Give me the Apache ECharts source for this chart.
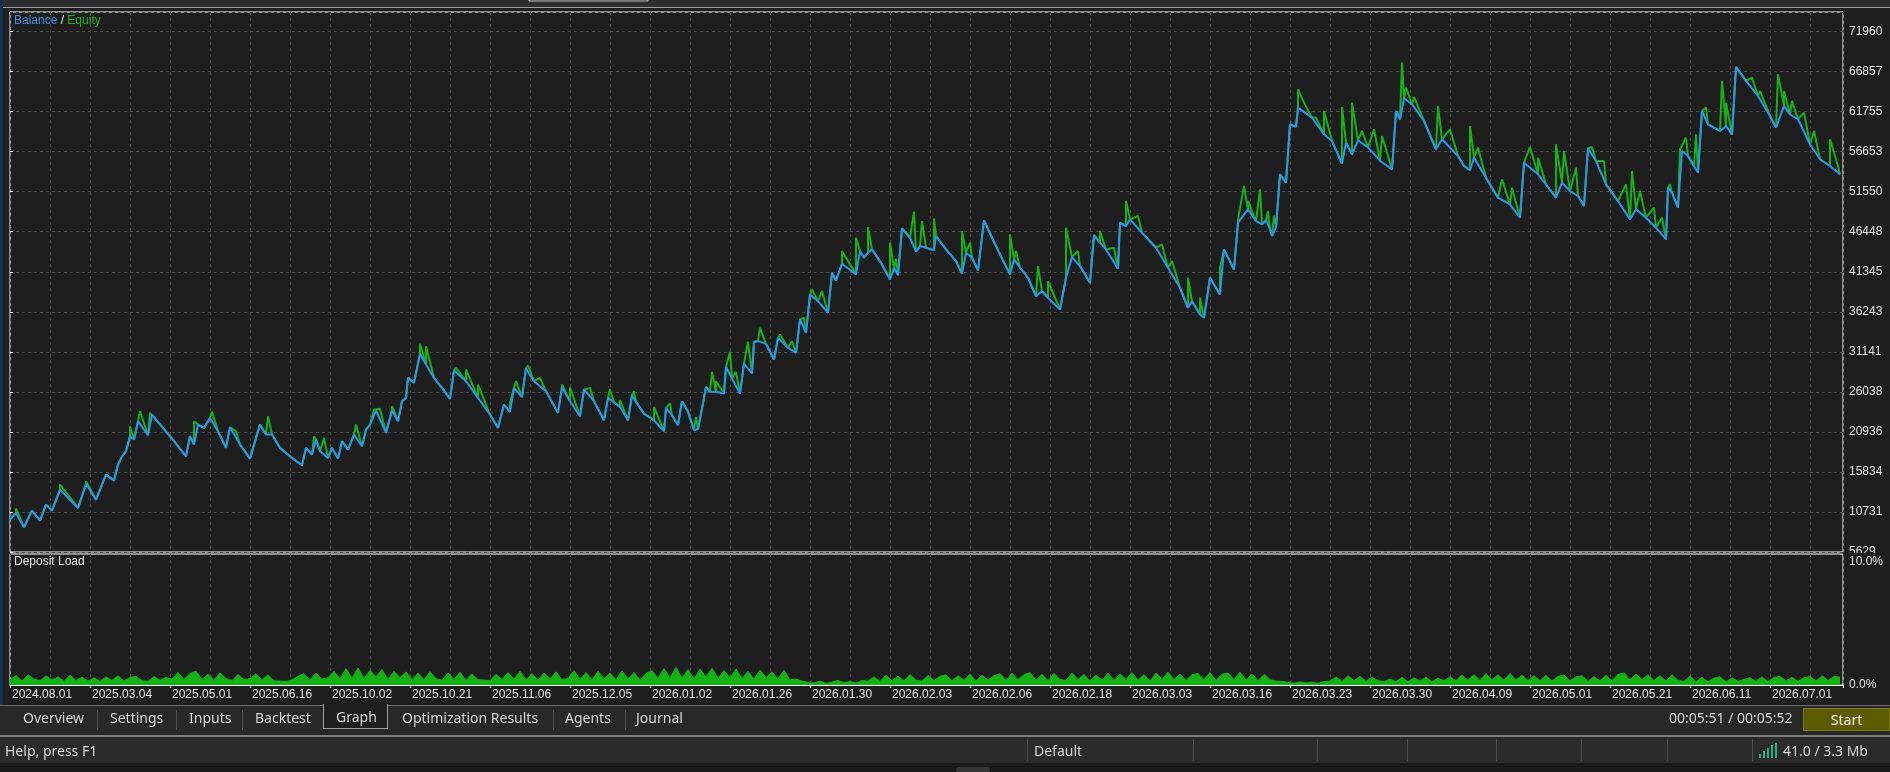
<!DOCTYPE html>
<html>
<head>
<meta charset="utf-8">
<title>Balance / Equity</title>
<script src="https://cdn.jsdelivr.net/npm/echarts@6.0.0/dist/echarts.min.js"></script>
<style>
  html, body { margin: 0; padding: 0; background: #1e1e1e; }
  body { width: 1890px; height: 772px; position: relative; overflow: hidden; font-family: "Noto Sans", sans-serif; color: #d8d8d8; }
  #chart { position: absolute; left: 0; top: 0; width: 1890px; height: 705px; }
  .abs { position: absolute; white-space: nowrap; }
  #navy { left: 0; top: 0; width: 3px; height: 737px; background: #0f3352; }
  #tabbar { left: 0; top: 705px; width: 1890px; height: 30px; background: #282828; border-top: 1px solid #6a6a6a; box-sizing: border-box; }
  #graphTab { left: 323px; top: 704px; width: 65px; height: 25px; background: #1e1e1e; border: 1px solid #a0a0a0; border-top: none; box-sizing: border-box; }
  .tab { top: 708px; font-size: 14px; line-height: 20px; color: #d6d6d6; }
  .sep { width: 1px; background: #4e4e4e; }
  #startBtn { left: 1803px; top: 708px; width: 87px; height: 23px; background: #5d5b00; border: 1px solid #7f7c12; box-sizing: border-box; text-align: center; font-size: 14px; line-height: 21px; color: #e8e8e0; }
  #status { left: 0; top: 735px; width: 1890px; height: 28px; background: #2b2b2b; border-top: 2px solid #7c7c7c; box-sizing: border-box; }
  #bottom { left: 0; top: 763px; width: 1890px; height: 9px; background: #1a1a1a; }
  #grip { left: 956px; top: 767px; width: 34px; height: 6px; background: #353535; border-radius: 3px; }
  .st { top: 741px; font-size: 14px; line-height: 20px; color: #d6d6d6; }
  .bar { width: 2px; background: #2bb07a; }
</style>
</head>
<body>
<div id="chart"></div>
<div class="abs" id="navy"></div>
<div class="abs" id="tabbar"></div>
<div class="abs" id="graphTab"></div>
<div class="abs tab" style="left:23px">Overview</div>
<div class="abs sep" style="left:97px;top:710px;height:20px"></div>
<div class="abs tab" style="left:110px">Settings</div>
<div class="abs sep" style="left:176px;top:710px;height:20px"></div>
<div class="abs tab" style="left:189px">Inputs</div>
<div class="abs sep" style="left:242px;top:710px;height:20px"></div>
<div class="abs tab" style="left:255px">Backtest</div>
<div class="abs tab" style="left:336px;top:707px">Graph</div>
<div class="abs tab" style="left:402px">Optimization Results</div>
<div class="abs sep" style="left:553px;top:710px;height:20px"></div>
<div class="abs tab" style="left:565px">Agents</div>
<div class="abs sep" style="left:625px;top:710px;height:20px"></div>
<div class="abs tab" style="left:636px">Journal</div>
<div class="abs tab" style="left:1669px">00:05:51 / 00:05:52</div>
<div class="abs" id="startBtn">Start</div>
<div class="abs" id="status"></div>
<div class="abs st" style="left:5px">Help, press F1</div>
<div class="abs sep" style="left:1027px;top:739px;height:22px"></div>
<div class="abs st" style="left:1034px">Default</div>
<div class="abs sep" style="left:1193px;top:739px;height:22px"></div>
<div class="abs sep" style="left:1317px;top:739px;height:22px"></div>
<div class="abs sep" style="left:1407px;top:739px;height:22px"></div>
<div class="abs sep" style="left:1496px;top:739px;height:22px"></div>
<div class="abs sep" style="left:1581px;top:739px;height:22px"></div>
<div class="abs sep" style="left:1667px;top:739px;height:22px"></div>
<div class="abs sep" style="left:1752px;top:739px;height:22px"></div>
<div class="abs bar" style="left:1759px;top:754px;height:4px"></div>
<div class="abs bar" style="left:1763px;top:751px;height:7px"></div>
<div class="abs bar" style="left:1767px;top:748px;height:10px"></div>
<div class="abs bar" style="left:1771px;top:745px;height:13px"></div>
<div class="abs bar" style="left:1775px;top:743px;height:15px"></div>
<div class="abs st" style="left:1783px">41.0 / 3.3 Mb</div>
<div class="abs" id="bottom"></div>
<div class="abs" id="grip"></div>

<script>
'use strict';

/*----- x axis: deal number, a date label every 40 deals -----*/
var xLabels = ['2024.08.01', '2025.03.04', '2025.05.01', '2025.06.16', '2025.10.02', '2025.10.21',
  '2025.11.06', '2025.12.05', '2026.01.02', '2026.01.26', '2026.01.30', '2026.02.03', '2026.02.06',
  '2026.02.18', '2026.03.03', '2026.03.16', '2026.03.23', '2026.03.30', '2026.04.09', '2026.05.01',
  '2026.05.21', '2026.06.11', '2026.07.01'];
var xLabelStep = 40;
var xMax = 916.5;

/*----- y axis ticks -----*/
var yTicks = ['5629', '10731', '15834', '20936', '26038', '31141', '36243', '41345', '46448',
  '51550', '56653', '61755', '66857', '71960'];
var yMin = 5629;
var yStep = (71960 - 5629) / 13;
var yMax = 74450;
var depositTicks = ['0.0%', '10.0%'];

/*----- balance [deal, value] -----*/
var balance = [
  [0, 9750], [3, 10600], [7, 8780], [11, 10900], [15, 9630], [18, 11670], [21, 10900], [25, 13580],
  [34, 11240], [38, 14300], [43, 12300], [48, 15490], [52, 14730], [54, 16770], [56, 17830], [58, 18470],
  [60, 20380], [62, 19960], [64, 22300], [69, 20510], [71, 23150], [82, 19750], [88, 17830], [90, 20380],
  [92, 19320], [94, 21870], [97, 21450], [100, 22720], [104, 21020], [108, 18900], [110, 21530], [115, 19320],
  [120, 17530], [123, 20170], [125, 21870], [128, 20600], [131, 20600], [135, 18900], [141, 17620], [146, 16680],
  [148, 18900], [151, 18050], [153, 19960], [155, 18470], [159, 17620], [161, 18900], [164, 17530], [166, 19750],
  [169, 18680], [172, 20600], [176, 19110], [178, 21230], [180, 21870], [183, 23660], [188, 20810], [191, 23660],
  [194, 22300], [196, 24850], [198, 25270], [199, 27820], [202, 27190], [205, 30890], [208, 29530], [212, 27820],
  [216, 26550], [220, 25150], [222, 28760], [228, 27400], [234, 25270], [240, 23150], [244, 21450], [247, 24420],
  [250, 23490], [252, 26550], [256, 25360], [258, 29020], [262, 27400], [268, 26120], [274, 23360], [276, 26630],
  [280, 24850], [285, 22930], [287, 26340], [292, 24850], [297, 22420], [299, 25270], [302, 24700], [305, 24130],
  [309, 22420], [311, 25610], [313, 24760], [317, 23270], [322, 22420], [327, 21020], [328, 24000], [331, 23060],
  [334, 21790], [336, 24850], [339, 23490], [342, 21150], [344, 21300], [346, 23910], [348, 26680], [350, 26040],
  [353, 26040], [357, 25830], [358, 29230], [361, 27740], [365, 25830], [367, 29650], [371, 28380], [372, 32420],
  [374, 32500], [378, 32160], [382, 30160], [384, 32930], [389, 31650], [393, 31010], [395, 35270], [398, 33570],
  [400, 38460], [404, 37600], [409, 36120], [411, 41220], [413, 40240], [416, 42370], [423, 41010], [425, 43980],
  [427, 43130], [429, 43770], [431, 44200], [436, 42280], [440, 40370], [442, 41860], [444, 40920], [446, 46870],
  [450, 45680], [453, 43900], [455, 44620], [458, 44410], [462, 44070], [463, 45900], [468, 44200], [473, 42710],
  [476, 41090], [478, 43770], [481, 43130], [484, 41520], [487, 47890], [491, 45680], [495, 43560], [500, 41010],
  [502, 42920], [505, 41860], [509, 40580], [513, 38240], [516, 38880], [519, 38030], [525, 36540], [528, 40580],
  [531, 43220], [535, 42070], [540, 39940], [542, 46020], [545, 45050], [548, 44200], [554, 41730], [555, 47600],
  [558, 47170], [560, 48020], [566, 46320], [573, 44410], [579, 41860], [585, 39310], [589, 36750], [591, 37600],
  [595, 35900], [597, 35480], [600, 40580], [602, 39730], [605, 38460], [607, 44200], [612, 41640], [614, 47600],
  [619, 49300], [623, 47800], [626, 47400], [628, 47900], [630, 46800], [631, 45900], [633, 47000], [635, 53760],
  [638, 52700], [640, 60140], [643, 59800], [644, 62270], [651, 60990], [657, 58860], [661, 58000], [666, 55120],
  [668, 57800], [671, 56310], [674, 58100], [679, 57200], [685, 55500], [691, 54400], [693, 61840], [695, 60780],
  [697, 63460], [701, 62700], [707, 60560], [713, 56950], [716, 58230], [724, 56100], [727, 54820], [730, 54300],
  [732, 55890], [738, 53340], [744, 50780], [750, 49930], [755, 48230], [757, 55250], [764, 53760], [768, 52490],
  [773, 50780], [776, 52700], [780, 51640], [784, 51000], [787, 49720], [789, 57080], [793, 55460], [798, 52490],
  [804, 50360], [810, 48020], [813, 49300], [818, 48230], [823, 46960], [828, 45470], [829, 52060], [831, 51400],
  [834, 49510], [836, 56740], [839, 56100], [842, 54820], [844, 53970], [846, 61840], [849, 60140], [855, 59290],
  [858, 59900], [861, 58860], [863, 67450], [868, 65670], [874, 63750], [880, 61200], [883, 59710], [887, 62480],
  [890, 61400], [894, 60780], [900, 57590], [905, 55680], [910, 54820], [915, 53760]
];

/*----- equity peaks above balance [deal, value] -----*/
var equitySpikes = [
  [3, 11160], [25, 14220], [38, 14640], [48, 15710], [60, 21660], [65, 23570], [70, 23360], [92, 22300],
  [101, 23490], [113, 21020], [125, 22080], [129, 22930], [152, 20380], [157, 20170], [173, 21870], [182, 23790],
  [185, 23900], [191, 24210], [205, 32160], [208, 31860], [223, 29100], [228, 28890], [234, 26970], [250, 24640],
  [253, 27400], [259, 29400], [265, 27820], [276, 27000], [280, 26630], [290, 26550], [300, 26380], [305, 25000],
  [312, 26120], [322, 24120], [330, 24550], [337, 24980], [343, 22850], [351, 28590], [353, 27400], [360, 31140],
  [363, 28590], [369, 32420], [375, 34200], [385, 33350], [391, 32500], [397, 35480], [401, 39090], [406, 38880],
  [416, 43980], [423, 45680], [429, 47040], [440, 45050], [443, 43000], [452, 49000], [456, 47810], [462, 48150],
  [476, 46530], [480, 45050], [500, 46110], [503, 44000], [514, 42070], [519, 40160], [528, 46960], [534, 43980],
  [545, 46530], [552, 44410], [558, 50360], [564, 48450], [576, 44830], [581, 42710], [589, 40580], [595, 38030],
  [605, 41860], [607, 44410], [614, 48020], [617, 52270], [619, 50360], [625, 51850], [629, 49080], [632, 48500],
  [644, 64600], [647, 62900], [653, 60990], [657, 61840], [666, 62350], [671, 62900], [676, 59290], [682, 59500],
  [686, 58650], [696, 68000], [698, 64820], [702, 63630], [714, 62480], [720, 59500], [730, 59930], [734, 57160],
  [746, 53120], [751, 52060], [760, 57250], [764, 55890], [773, 57590], [777, 56740], [783, 54610], [791, 57250],
  [797, 55460], [808, 52490], [811, 54190], [815, 51640], [822, 49510], [826, 48230], [830, 52490], [835, 56950],
  [838, 58440], [843, 58860], [848, 62270], [856, 65670], [858, 62900], [864, 67580], [871, 66090], [875, 64390],
  [884, 66520], [887, 64390], [891, 63120], [897, 61630], [902, 59290], [910, 58230], [914, 54820]
];

/*----- deposit load %, one value every 3 deals -----*/
var depositStep = 3;
var depositLoad = [
  0.40, 0.72, 0.30, 0.78, 0.45, 0.33, 0.70, 0.38, 0.62, 0.28, 0.75, 0.35, 0.60, 0.30, 0.55,
  0.28, 0.62, 0.35, 0.70, 0.30, 0.58, 0.66, 0.32, 0.28, 0.64, 0.36, 0.58,
  0.45, 0.95, 0.40, 0.88, 1.05, 0.42, 0.82, 0.35, 0.92, 0.50, 0.33, 0.80, 0.40,
  0.50, 0.86, 0.36, 0.78, 0.32, 0.30, 0.26, 0.40, 0.66, 0.86, 0.38, 0.90, 0.45,
  0.55, 1.05, 0.45, 1.25, 0.50, 1.30, 0.48, 1.12, 0.60, 1.18, 0.42, 1.05, 0.55, 1.00, 0.40,
  0.90, 0.40, 1.02, 0.48, 0.36, 0.92, 0.42, 0.98, 0.34, 0.85, 0.40, 0.38,
  0.32, 0.82, 0.40, 0.95, 0.45, 1.04, 0.38, 0.88, 0.36, 0.92, 0.45, 1.00, 0.40,
  0.50, 1.10, 0.42, 0.95, 0.38, 1.05, 0.48, 0.90, 0.40, 1.08, 0.45, 0.95, 0.36, 0.88,
  1.10, 0.50, 1.25, 0.55, 1.35, 0.52, 1.18, 0.45, 1.20, 0.60, 1.28, 0.50, 1.10, 0.55, 1.22, 0.48,
  1.05, 0.42, 1.15, 0.55, 1.00, 0.45, 1.12, 0.40, 0.45, 0.30,
  0.20, 0.15, 0.30, 0.12, 0.22, 0.36, 0.16, 0.28, 0.14, 0.34,
  0.30, 0.62, 0.28, 0.75, 0.32, 0.68, 0.30, 0.80, 0.36, 0.30, 0.72, 0.34, 0.66, 0.78, 0.32, 0.70,
  0.36, 0.82, 0.30, 0.74, 0.38, 0.70,
  0.85, 0.36, 0.90, 0.40, 0.78, 0.95, 0.36, 0.82, 0.32, 0.88, 0.42, 0.34, 0.92, 0.40, 0.80, 0.32, 0.76,
  0.38, 0.90, 0.34, 0.85, 0.42, 0.95, 0.36, 0.80, 0.30, 0.92, 0.42, 0.98, 0.40, 0.84, 0.34, 0.78,
  0.88, 0.40, 0.95, 0.34, 0.82, 0.92, 0.40, 0.98, 0.36, 0.85, 0.32, 0.80, 0.40, 0.30, 0.28,
  0.20, 0.14, 0.24, 0.16, 0.22, 0.12, 0.26,
  0.30, 0.62, 0.28, 0.70, 0.32, 0.66, 0.28, 0.60, 0.34, 0.26,
  0.45, 0.26, 0.58, 0.24, 0.55, 0.30, 0.60, 0.25, 0.52, 0.32,
  0.62, 0.32, 0.75, 0.36, 0.80, 0.34, 0.85, 0.40, 0.78, 0.36, 0.88, 0.38, 0.74, 0.34, 0.70,
  0.32, 0.72, 0.30, 0.66, 0.76, 0.32, 0.62, 0.70, 0.28, 0.64, 0.32, 0.72, 0.34,
  0.80, 0.92, 0.38, 0.85, 0.40, 0.78, 0.34,
  0.70, 0.30, 0.78, 0.34, 0.28, 0.68, 0.26, 0.58, 0.24, 0.52, 0.62, 0.22, 0.55, 0.28, 0.42,
  0.55, 0.28, 0.62, 0.26, 0.58, 0.66, 0.30, 0.60, 0.26, 0.56, 0.64, 0.30, 0.70, 0.34, 0.66, 0.60
];

/*----- build series data -----*/
// equity follows balance and peaks at the spike points
var equity = balance.map(function (p) { return [p[0], p[1], 0]; })
  .concat(equitySpikes.map(function (p) { return [p[0], p[1], 1]; }))
  .sort(function (a, b) { return (a[0] - b[0]) || (a[2] - b[2]); })
  .map(function (p) { return [p[0], p[1]]; });

var deposit = depositLoad.map(function (v, i) { return [i * depositStep, v]; });

var labelFont = 'Liberation Sans, Arial, sans-serif';
var gridLine = { show: true, lineStyle: { color: '#4b4b4b', type: [3, 3], width: 1 } };

function xLabel(v) {
  if (v % xLabelStep !== 0) return '';
  return xLabels[v / xLabelStep] || '';
}

function yLabel(v) {
  var k = (v - yMin) / yStep;
  var i = Math.round(k);
  if (Math.abs(k - i) > 0.01 || i < 0 || i >= yTicks.length) return '';
  return yTicks[i];
}

var chart = echarts.init(document.getElementById('chart'));

var option = {
  backgroundColor: '#1e1e1e',
  animation: false,
  textStyle: { fontFamily: labelFont },
  grid: [
    { left: 10, top: 12, width: 1833, height: 540, show: true, borderColor: '#ffffff', borderWidth: 1, backgroundColor: '#1e1e1e' },
    { left: 10, top: 554, width: 1833, height: 131, show: true, borderColor: '#ffffff', borderWidth: 1, backgroundColor: '#1e1e1e' }
  ],
  xAxis: [
    {
      gridIndex: 0, type: 'value', position: 'bottom', min: 0, max: xMax, interval: 20,
      axisLine: { show: false }, axisTick: { show: false }, axisLabel: { show: false },
      splitLine: gridLine
    },
    {
      gridIndex: 1, type: 'value', position: 'bottom', min: 0, max: xMax, interval: 20,
      axisLine: { show: true, lineStyle: { color: '#ffffff', width: 1 } },
      axisTick: { show: false },
      axisLabel: {
        show: true, formatter: xLabel, align: 'left', padding: [0, 0, 0, 2],
        color: '#e4e4e4', fontSize: 12, fontFamily: labelFont, margin: 4,
        showMinLabel: true, showMaxLabel: true
      },
      splitLine: gridLine
    },
    {
      gridIndex: 1, type: 'value', position: 'bottom', min: 0, max: xMax, interval: xLabelStep,
      axisLine: { show: false },
      axisTick: { show: true, length: 3, lineStyle: { color: '#ffffff' } },
      axisLabel: { show: false }, splitLine: { show: false }
    }
  ],
  yAxis: [
    {
      gridIndex: 0, type: 'value', position: 'right', min: yMin, max: yMax, interval: yStep,
      axisLine: { show: false },
      axisTick: { show: true, length: 3, lineStyle: { color: '#ffffff' } },
      axisLabel: {
        formatter: yLabel, color: '#e4e4e4', fontSize: 12, fontFamily: labelFont, margin: 6,
        showMinLabel: true, showMaxLabel: false
      },
      splitLine: gridLine
    },
    {
      gridIndex: 1, type: 'value', position: 'right', min: 0, max: 10, interval: 10,
      axisLine: { show: false }, axisTick: { show: false }, splitLine: { show: false },
      axisLabel: {
        color: '#e4e4e4', fontSize: 12, fontFamily: labelFont, margin: 6,
        formatter: function (v) { return v === 0 ? depositTicks[0] : '{t|' + depositTicks[1] + '}'; },
        rich: { t: { color: '#e4e4e4', fontSize: 12, fontFamily: labelFont, padding: [15, 0, 0, 0] } }
      }
    }
  ],
  series: [
    {
      name: 'Equity', type: 'line', xAxisIndex: 0, yAxisIndex: 0, data: equity,
      symbol: 'none', lineStyle: { color: '#17b017', width: 2 }, z: 2
    },
    {
      name: 'Balance', type: 'line', xAxisIndex: 0, yAxisIndex: 0, data: balance,
      symbol: 'none', lineStyle: { color: '#2c96ee', width: 2 }, z: 3
    },
    {
      name: 'Deposit Load', type: 'line', xAxisIndex: 1, yAxisIndex: 1, data: deposit,
      symbol: 'none', lineStyle: { color: '#14b314', width: 1 },
      areaStyle: { color: '#14b314', opacity: 1 }, z: 2
    }
  ],
  graphic: [
    { type: 'rect', shape: { x: 0, y: 0, width: 1890, height: 7 }, style: { fill: '#2e2e2e' }, z: 50 },
    { type: 'rect', shape: { x: 0, y: 7, width: 1890, height: 1 }, style: { fill: '#9e9e9e' }, z: 50 },
    { type: 'rect', shape: { x: 529, y: -3, width: 119, height: 4 }, style: { fill: '#383838', stroke: '#b4b4b4', lineWidth: 1 }, z: 51 },
    // hides the lower half of the bottom price label, as in the terminal
    { type: 'rect', shape: { x: 1844, y: 553, width: 46, height: 3 }, style: { fill: '#1e1e1e' }, z: 100 },
    {
      type: 'text', left: 14, top: 15, z: 60,
      style: {
        text: '{b|Balance} {s|/} {e|Equity}',
        rich: {
          b: { fill: '#3a91e4', fontSize: 12, fontFamily: labelFont },
          s: { fill: '#e8e8e8', fontSize: 12, fontFamily: labelFont },
          e: { fill: '#22ae22', fontSize: 12, fontFamily: labelFont }
        }
      }
    },
    {
      type: 'text', left: 14, top: 556, z: 60,
      style: { text: 'Deposit Load', fill: '#e8e8e8', fontSize: 12, fontFamily: labelFont }
    }
  ]
};

chart.setOption(option);
</script>
</body>
</html>
